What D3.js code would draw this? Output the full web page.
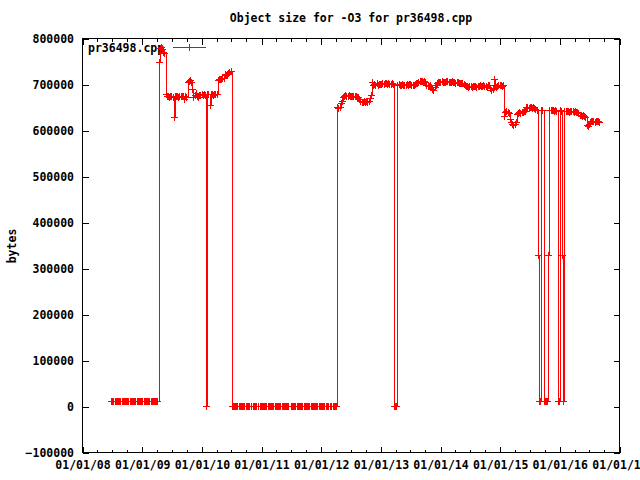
<!DOCTYPE html>
<html>
<head>
<meta charset="utf-8">
<script src="https://cdn.jsdelivr.net/npm/d3@7"></script>
<style>
  body { margin: 0; background: #fff; }
  svg { display: block; background: #fff; }
  text { font-family: "DejaVu Sans Mono", monospace; font-weight: bold; font-size: 11.5px; fill: #000; }
</style>
</head>
<body>
<svg id="chart"></svg>
<script>
// chart texts
const chartTitle = "Object size for -O3 for pr36498.cpp";
const seriesName = "pr36498.cpp";
const yLabel = "bytes";

// axis ticks
const yTickValues = [-100000, 0, 100000, 200000, 300000, 400000, 500000, 600000, 700000, 800000];
const xTickYears = [2008, 2009, 2010, 2011, 2012, 2013, 2014, 2015, 2016, 2017];

// samples: one reading roughly every 7.1 days, starting late June 2008
const firstSample = new Date(2008, 5, 24);
const sampleStepDays = 7.1;

// object size in thousands of bytes (null = no sample)
const objectSizeK = [
  12, 12, 12, 12, 12, 12, 12, 12, 12, 12,
  12, 12, 12, 12, 12, 12, 12, 12, 12, 12,
  12, 12, 12, 12, 12, 12, 12, 12, 12, 12,
  12, 12, 12, 12, 12, 12, 12, 12, 12, 12,
  12, 750, 780, 782, 778, 770, 768, 680, 675, 675,
  672, 675, 675, 672, 630, 675, 674, 676, 672, 675,
  676, 674, 675, 668, 675, 672, 705, 708, 710, 705,
  690, 672, 678, 682, 675, 672, 678, 678, 680, 678,
  680, 678, 0, 680, 680, 655, 680, 680, 678, 680,
  680, 680, 710, 713, 713, 712, 714, 715, 722, 720,
  722, 725, 728, 730, 0, 0, 0, 0, 0, 0,
  0, 0, 0, 0, 0, 0, 0, 0, 0, 0,
  null, 0, 0, 0, 0, 0, null, 0, 0, 0,
  0, 0, 0, 0, 0, 0, 0, 0, 0, 0,
  0, 0, 0, 0, 0, 0, 0, 0, 0, 0,
  0, 0, 0, 0, null, 0, 0, 0, 0, 0,
  0, 0, 0, 0, 0, 0, 0, 0, 0, 0,
  0, 0, 0, 0, 0, 0, 0, 0, 0, 0,
  0, 0, 0, 0, 0, 0, 0, 0, null, 0,
  0, 0, 0, 0, 0, 650, 648, 652, 660, 665,
  672, 676, 678, 675, 676, 678, 676, 675, 676, 675,
  674, 676, 673, 672, 668, 665, 662, 663, 665, 662,
  664, 662, 665, 670, 678, 705, 700, 702, 700, 703,
  700, 701, 702, 702, 703, 702, 703, 703, 702, 703,
  702, 702, 703, 702, 0, 0, 0, 700, 701, 699,
  700, 702, 700, 698, 700, 701, 700, 702, 701, 700,
  699, 700, 702, 703, 704, 706, 707, 708, 707, 706,
  708, 706, 698, 697, 696, 698, 695, 690, 688, 695,
  698, 703, 705, 706, 705, 707, 706, 705, 706, 707,
  708, 706, 705, 706, 707, 706, 705, 704, 705, 706,
  704, 703, 704, 703, 702, 700, 697, 696, 695, 696,
  697, 695, 696, 697, 696, 695, 696, 697, 698, 697,
  696, 698, 697, 696, 695, 698, 700, 693, 688, 690,
  712, 698, 695, 697, 698, 700, 698, 697, 700, 632,
  640, 642, 640, 638, 625, 618, 615, 612, 615, 618,
  636, 638, 640, 638, 640, 640, 642, 642, 652, 650,
  648, 650, 650, 648, 650, 648, 646, 645, 330, 12,
  12, 645, 645, 12, 12, 12, 12, 330, 645, 645,
  644, 645, 643, 644, 643, 12, 12, 645, 643, 330,
  12, 642, 642, 643, 642, 641, 642, 643, 642, 640,
  642, 641, 640, 638, 634, 633, 632, 633, 632, 630,
  612, 610, 614, 618, 620, 621, 620, 619, 620, 621,
  620, 618
];

const data = objectSizeK
  .map((v, i) => ({
    date: new Date(firstSample.getTime() + i * sampleStepDays * 86400000),
    bytes: v === null ? null : v * 1000
  }))
  .filter(d => d.bytes !== null);

const width = 640, height = 480;
const plot = { left: 82.5, right: 619.5, top: 38.5, bottom: 452.5 };
const red = "#ff0000";

const svg = d3.select("#chart")
    .attr("width", width)
    .attr("height", height);

const x = d3.scaleTime()
    .domain([new Date(xTickYears[0], 0, 1), new Date(xTickYears[xTickYears.length - 1], 0, 1)])
    .range([plot.left, plot.right]);

const y = d3.scaleLinear()
    .domain([yTickValues[0], yTickValues[yTickValues.length - 1]])
    .range([plot.bottom, plot.top]);

const majorDates = xTickYears.map(yr => new Date(yr, 0, 1));
const minorDates = d3.timeMonth.every(3).range(x.domain()[0], x.domain()[1])
    .filter(d => d.getMonth() !== 0);

// axes - ticks point inward like gnuplot
svg.append("g")
    .attr("transform", `translate(0,${plot.bottom})`)
    .call(d3.axisBottom(x).tickValues(majorDates).tickSizeInner(-6).tickSizeOuter(0)
      .tickPadding(8).tickFormat(d3.timeFormat("%m/%d/%y")));

svg.append("g")
    .attr("transform", `translate(0,${plot.bottom})`)
    .call(d3.axisBottom(x).tickValues(minorDates).tickSizeInner(-3).tickSizeOuter(0).tickFormat(""));

svg.append("g")
    .attr("transform", `translate(0,${plot.top})`)
    .call(d3.axisTop(x).tickValues(majorDates).tickSizeInner(-6).tickSizeOuter(0).tickFormat(""));

svg.append("g")
    .attr("transform", `translate(0,${plot.top})`)
    .call(d3.axisTop(x).tickValues(minorDates).tickSizeInner(-3).tickSizeOuter(0).tickFormat(""));

svg.append("g")
    .attr("transform", `translate(${plot.left},0)`)
    .call(d3.axisLeft(y).tickValues(yTickValues).tickSizeInner(-6).tickSizeOuter(0)
      .tickPadding(8.5).tickFormat(d3.format("d")));

svg.append("g")
    .attr("transform", `translate(${plot.right},0)`)
    .call(d3.axisRight(y).tickValues(yTickValues).tickSizeInner(-6).tickSizeOuter(0).tickFormat(""));

svg.selectAll(".domain").remove();
svg.selectAll(".tick line")
    .attr("stroke", "#000")
    .attr("shape-rendering", "crispEdges");
svg.selectAll(".tick text")
    .attr("fill", "#000")
    .style("font-family", "'DejaVu Sans Mono', monospace")
    .style("font-weight", "bold")
    .style("font-size", "11.5px");

// border box
svg.append("rect")
    .attr("x", plot.left)
    .attr("y", plot.top)
    .attr("width", plot.right - plot.left)
    .attr("height", plot.bottom - plot.top)
    .attr("fill", "none")
    .attr("stroke", "#000")
    .attr("shape-rendering", "crispEdges");

// title + y label
svg.append("text")
    .attr("x", (plot.left + plot.right) / 2)
    .attr("y", 22)
    .attr("text-anchor", "middle")
    .text(chartTitle);

svg.append("text")
    .attr("transform", `translate(16,246) rotate(-90)`)
    .attr("text-anchor", "middle")
    .text(yLabel);

// legend (drawn under the data, as in the original)
const plusPath = "M-3,0.5H4M0.5,-3V4";
svg.append("text")
    .attr("x", 88)
    .attr("y", 52)
    .text(seriesName);
svg.append("line")
    .attr("x1", 173).attr("x2", 206)
    .attr("y1", 47.5).attr("y2", 47.5)
    .attr("stroke", red)
    .attr("shape-rendering", "crispEdges");
svg.append("path")
    .attr("transform", "translate(189,47)")
    .attr("d", plusPath)
    .attr("stroke", red)
    .attr("fill", "none")
    .attr("shape-rendering", "crispEdges");

// the series: line + crosses. samples are dense, so a step curve keeps
// the jumps as clean vertical strokes the way the original shows them
const line = d3.line()
    .curve(d3.curveStepAfter)
    .x(d => Math.round(x(d.date)) + 0.5)
    .y(d => Math.round(y(d.bytes)) + 0.5);

svg.append("path")
    .datum(data)
    .attr("d", line)
    .attr("fill", "none")
    .attr("stroke", red)
    .attr("stroke-width", 1)
    .attr("shape-rendering", "crispEdges");

svg.append("g")
    .selectAll("path")
    .data(data)
    .join("path")
    .attr("transform", d => `translate(${Math.round(x(d.date))},${Math.round(y(d.bytes))})`)
    .attr("d", plusPath)
    .attr("stroke", red)
    .attr("fill", "none")
    .attr("shape-rendering", "crispEdges");
</script>
</body>
</html>
